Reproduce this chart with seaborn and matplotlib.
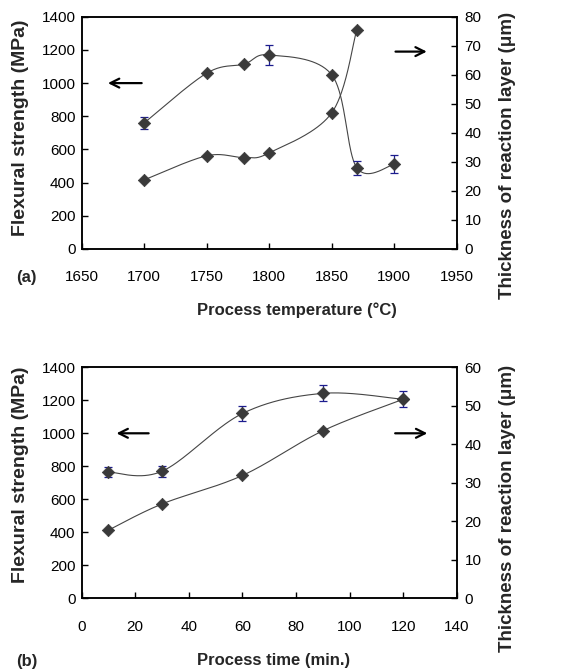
import numpy as np
import matplotlib
matplotlib.use('Agg')
import matplotlib.pyplot as plt
import seaborn as sns

# panel (a): process temperature
temp_a = [1700, 1750, 1780, 1800, 1850, 1870, 1900]
strength_a = [760, 1060, 1115, 1170, 1050, 490, 510]
strength_a_err = [38, 0, 0, 58, 0, 42, 54]
temp_thick_a = [1700, 1750, 1780, 1800, 1850, 1870]
thick_a = [23.8, 32.1, 31.5, 33.1, 46.9, 75.5]

# panel (b): process time
time_b = [10, 30, 60, 90, 120]
strength_b = [765, 770, 1120, 1242, 1206]
strength_b_err = [30, 33, 46, 49, 49]
thick_b = [17.7, 24.5, 31.9, 43.5, 51.7]

sns.set_style('ticks')
plt.rcParams['font.family'] = ['Liberation Sans', 'DejaVu Sans']
plt.rcParams['axes.linewidth'] = 1.1

LINE = '#454545'
MARK = '#3a3a3a'
ERR = '#1c1c8e'


def smooth(ax, x, y, n=40):
    # Excel-like smoothed line, built in display space
    pts = ax.transData.transform(np.column_stack([x, y]))
    p = np.vstack([pts[0], pts, pts[-1]])
    t = np.linspace(0, 1, n)[:, None]
    segs = []
    for i in range(1, len(p) - 2):
        p0, p1, p2, p3 = p[i - 1], p[i], p[i + 1], p[i + 2]
        c1 = p1 + (p2 - p0) / 6
        c2 = p2 - (p3 - p1) / 6
        segs.append((1 - t) ** 3 * p1 + 3 * (1 - t) ** 2 * t * c1
                    + 3 * (1 - t) * t ** 2 * c2 + t ** 3 * p2)
    out = ax.transData.inverted().transform(np.vstack(segs))
    return out[:, 0], out[:, 1]


def series(ax, x, y, err=None):
    sx, sy = smooth(ax, x, y)
    sns.lineplot(x=sx, y=sy, sort=False, estimator=None, ax=ax,
                 color=LINE, lw=0.8, zorder=2)
    if err is not None:
        keep = [i for i, e in enumerate(err) if e > 0]
        ax.errorbar([x[i] for i in keep], [y[i] for i in keep],
                    yerr=[err[i] for i in keep], fmt='none', ecolor=ERR,
                    elinewidth=0.9, capsize=3, capthick=0.9, zorder=3)
    sns.scatterplot(x=x, y=y, ax=ax, marker='D', s=40, color=MARK,
                    edgecolor=MARK, linewidth=0.5, zorder=4)


def style(ax, ax2):
    ax.tick_params(axis='both', direction='in', length=4, width=1,
                   labelsize=11, colors='black')
    ax.tick_params(axis='x', pad=15.5)
    ax.tick_params(axis='y', pad=4.5)
    ax2.tick_params(axis='y', direction='in', length=4, width=1,
                    labelsize=11, pad=5.5, colors='black')
    ax.set_xlabel('')
    ax.set_ylabel('')
    ax2.set_ylabel('')
    for s in ax.spines.values():
        s.set_color('black')
    for s in ax2.spines.values():
        s.set_color('black')


def arrow(ax, x0, x1, y):
    ax.annotate('', xy=(x1, y), xytext=(x0, y),
                arrowprops=dict(arrowstyle='->', lw=1.6, color='black',
                                mutation_scale=16, shrinkA=0, shrinkB=0))


fig = plt.figure(figsize=(5.71, 6.71), dpi=100)

# ---- (a)
ax = fig.add_axes([0.143, 0.629, 0.657, 0.346])
ax.set_xlim(1650, 1950)
ax.set_ylim(0, 1400)
ax.set_xticks(np.arange(1650, 1951, 50))
ax.set_yticks(np.arange(0, 1401, 200))
ax2 = ax.twinx()
ax2.set_ylim(0, 80)
ax2.set_yticks(np.arange(0, 81, 10))
series(ax, temp_a, strength_a, strength_a_err)
series(ax2, temp_thick_a, thick_a)
style(ax, ax2)
arrow(ax, 1698, 1671, 1000)
arrow(ax2, 1901, 1926, 68)

fig.text(0.036, 0.810, 'Flexural strength (MPa)', rotation=90, ha='center',
         va='center', fontsize=14, fontweight='bold')
fig.text(0.888, 0.769, 'Thickness of reaction layer (μm)', rotation=90,
         ha='center', va='center', fontsize=13.5, fontweight='bold')
fig.text(0.520, 0.538, 'Process temperature (°C)', ha='center', va='center',
         fontsize=12, fontweight='bold')
fig.text(0.028, 0.587, '(a)', ha='left', va='center', fontsize=12,
         fontweight='bold')

# ---- (b)
bx = fig.add_axes([0.143, 0.1084, 0.657, 0.3442])
bx.set_xlim(0, 140)
bx.set_ylim(0, 1400)
bx.set_xticks(np.arange(0, 141, 20))
bx.set_yticks(np.arange(0, 1401, 200))
bx2 = bx.twinx()
bx2.set_ylim(0, 60)
bx2.set_yticks(np.arange(0, 61, 10))
series(bx, time_b, strength_b, strength_b_err)
series(bx2, time_b, thick_b)
style(bx, bx2)
arrow(bx, 25, 13, 1000)
arrow(bx, 117, 129, 1000)

fig.text(0.036, 0.292, 'Flexural strength (MPa)', rotation=90, ha='center',
         va='center', fontsize=14, fontweight='bold')
fig.text(0.888, 0.243, 'Thickness of reaction layer (μm)', rotation=90,
         ha='center', va='center', fontsize=13.5, fontweight='bold')
fig.text(0.479, 0.016, 'Process time (min.)', ha='center', va='center',
         fontsize=12, fontweight='bold')
fig.text(0.028, 0.014, '(b)', ha='left', va='center', fontsize=12,
         fontweight='bold')

fig.savefig('out.png', dpi=100)
